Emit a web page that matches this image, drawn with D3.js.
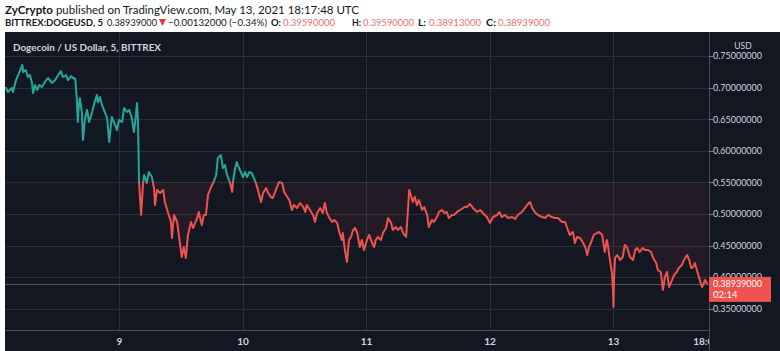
<!DOCTYPE html>
<html>
<head>
<meta charset="utf-8">
<script src="https://cdn.jsdelivr.net/npm/d3@7"></script>
<style>
  body { margin: 0; background: #fff; }
  svg { display: block; }
</style>
</head>
<body>
<div id="chart"></div>
<script>
// DOGE/USD 5分钟 收盘价 [距 5月8日 00:00 UTC 的小时数, 价格]
const doge = [
  [1.9,0.7009],[2.3,0.6930],[3.1,0.6994],[3.3,0.6930],[3.9,0.7120],[4.3,0.7199],[4.9,0.7310],[5.1,0.7358],
  [5.3,0.7247],[5.8,0.7278],[6.2,0.7168],[6.6,0.7199],[7.0,0.7073],[7.2,0.6914],[7.6,0.7041],[8.0,0.6962],
  [8.4,0.7041],[8.9,0.7009],[9.5,0.7089],[10.1,0.7152],[10.9,0.7073],[11.5,0.7120],[12.1,0.7199],[12.6,0.7263],
  [13.0,0.7168],[13.6,0.7199],[14.0,0.7120],[14.6,0.7183],[15.0,0.7152],[15.4,0.7136],[15.7,0.6835],[15.9,0.6456],
  [16.1,0.6725],[16.3,0.6835],[16.7,0.6598],[16.9,0.6171],[17.3,0.6519],[17.7,0.6645],[18.1,0.6456],[18.7,0.6614],
  [19.0,0.6725],[19.6,0.6883],[19.8,0.6772],[20.2,0.6851],[20.6,0.6725],[21.0,0.6645],[21.6,0.6519],[22.0,0.6139],
  [22.5,0.6535],[22.9,0.6456],[23.5,0.6329],[23.9,0.6487],[24.5,0.6456],[24.9,0.6677],[25.5,0.6614],[25.9,0.6645],
  [26.4,0.6519],[26.8,0.6297],[27.2,0.6566],[27.4,0.6756],[27.6,0.6456],[27.8,0.5506],[28.2,0.4984],[28.6,0.5506],
  [28.8,0.5617],[29.3,0.5490],[29.7,0.5664],[30.3,0.5585],[30.7,0.5411],[30.9,0.5142],[31.3,0.5380],[31.9,0.5332],
  [32.5,0.5380],[32.8,0.5190],[33.4,0.5032],[34.0,0.4873],[34.2,0.4620],[34.6,0.4984],[35.2,0.4873],[35.6,0.4620],
  [36.1,0.4319],[36.5,0.4478],[36.9,0.4304],[37.3,0.4668],[37.9,0.4873],[38.3,0.4778],[39.1,0.4937],[39.4,0.5032],
  [40.0,0.4826],[40.4,0.4984],[40.8,0.4984],[41.2,0.5301],[41.8,0.5427],[42.2,0.5490],[42.8,0.5617],[43.1,0.5886],
  [43.7,0.5933],[44.1,0.5728],[44.5,0.5775],[44.9,0.5617],[45.5,0.5490],[45.9,0.5348],[46.1,0.5538],[46.4,0.5696],
  [46.8,0.5823],[47.0,0.5775],[47.4,0.5696],[48.0,0.5585],[48.4,0.5664],[48.8,0.5585],[49.2,0.5664],[49.7,0.5649],
  [50.1,0.5570],[50.5,0.5490],[50.9,0.5380],[51.5,0.5190],[51.9,0.5332],[52.5,0.5411],[52.9,0.5332],[53.4,0.5269],
  [53.8,0.5253],[54.4,0.5380],[55.0,0.5506],[55.6,0.5490],[56.0,0.5348],[56.6,0.5269],[57.0,0.5221],[57.5,0.5063],
  [57.9,0.5142],[58.5,0.5095],[59.1,0.5174],[59.7,0.5111],[60.1,0.5032],[60.4,0.5142],[61.0,0.5063],[61.6,0.4984],
  [62.0,0.4873],[62.4,0.5016],[63.0,0.5095],[63.5,0.5016],[63.9,0.5174],[64.3,0.5016],[64.7,0.4952],[65.3,0.4873],
  [65.7,0.4905],[66.3,0.4857],[66.7,0.4715],[67.2,0.4588],[67.4,0.4699],[67.8,0.4430],[68.2,0.4240],[68.6,0.4588],
  [69.0,0.4636],[69.4,0.4747],[69.8,0.4778],[70.2,0.4699],[70.7,0.4478],[71.1,0.4588],[71.5,0.4430],[72.1,0.4588],
  [72.5,0.4668],[73.1,0.4541],[73.5,0.4478],[73.8,0.4588],[74.2,0.4636],[74.8,0.4588],[75.2,0.4699],[75.8,0.4778],
  [76.2,0.4937],[76.8,0.4857],[77.1,0.4747],[77.7,0.4794],[78.1,0.4747],[78.7,0.4794],[79.1,0.4699],[79.7,0.4636],
  [80.1,0.5111],[80.3,0.5380],[80.6,0.5301],[81.0,0.5190],[81.4,0.5269],[81.8,0.5142],[82.2,0.5221],[82.8,0.5063],
  [83.2,0.5111],[83.8,0.4984],[84.1,0.4794],[84.7,0.4905],[85.1,0.4873],[85.7,0.4952],[86.1,0.5032],[86.7,0.5063],
  [87.1,0.5016],[87.6,0.5032],[88.0,0.4937],[88.6,0.4984],[89.0,0.4984],[89.6,0.5032],[90.2,0.5063],[90.8,0.5095],
  [91.1,0.5111],[91.5,0.5111],[92.1,0.5158],[92.7,0.5095],[93.5,0.5032],[94.1,0.5063],[94.6,0.5016],[95.4,0.4952],
  [96.0,0.4857],[96.6,0.4952],[97.4,0.4984],[97.8,0.5032],[98.3,0.4952],[98.9,0.4984],[99.5,0.4937],[100.3,0.4952],
  [100.9,0.4921],[101.4,0.4984],[102.2,0.5032],[102.8,0.5095],[103.2,0.5142],[103.8,0.5190],[104.2,0.5095],[104.7,0.5032],
  [105.3,0.4984],[106.1,0.4952],[106.7,0.4937],[107.3,0.4984],[108.0,0.4952],[108.6,0.4937],[109.2,0.4937],[110.0,0.4873],
  [110.6,0.4873],[111.0,0.4778],[111.5,0.4668],[112.1,0.4715],[112.5,0.4541],[112.9,0.4636],[113.5,0.4620],[114.1,0.4541],
  [114.5,0.4478],[114.9,0.4351],[115.2,0.4462],[115.8,0.4588],[116.2,0.4668],[116.8,0.4699],[117.2,0.4715],[117.8,0.4668],
  [118.0,0.4557],[118.3,0.4399],[118.7,0.4588],[118.9,0.4509],[119.3,0.4272],[119.7,0.4066],[119.9,0.3797],[120.0,0.3528],
  [120.1,0.3956],[120.3,0.4304],[120.7,0.4351],[121.3,0.4272],[121.8,0.4319],[122.2,0.4509],[122.6,0.4478],[123.2,0.4319],
  [123.8,0.4272],[124.2,0.4430],[124.6,0.4462],[125.1,0.4399],[125.7,0.4462],[126.1,0.4430],[126.7,0.4430],[127.3,0.4399],
  [127.7,0.4304],[128.3,0.4225],[128.6,0.4114],[129.2,0.4082],[129.6,0.3797],[130.0,0.4003],[130.4,0.4082],[130.8,0.3845],
  [131.4,0.3956],[131.8,0.4035],[132.3,0.4082],[132.7,0.4145],[133.3,0.4193],[133.7,0.4272],[134.3,0.4351],[134.7,0.4272],
  [135.1,0.4145],[135.5,0.4161],[135.8,0.4225],[136.2,0.4114],[136.6,0.4003],[137.2,0.3845],[137.4,0.3876],[137.8,0.3956],
  [138.2,0.3894]
];
const priceTicks = [0.35, 0.40, 0.45, 0.50, 0.55, 0.60, 0.65, 0.70, 0.75];
const dayTicks = [9, 10, 11, 12, 13];
const baseLevel = 0.5506;
const lastPrice = 0.38939;
const countdown = "02:14";

// 头部文字 [文本, 粗细, 颜色, 起点x, 宽度, 字号]
const headerLine1 = [["ZyCrypto", "bold"], [" published on TradingView.com, May 13, 2021 18:17:48 UTC", "normal"]];
const headerLine2 = [
  ["BITTREX:DOGEUSD, 5", "bold", "#131722", 5, 98, 10],
  ["0.38939000", "normal", "#131722", 107, 50, 9.5],
  ["\u22120.00132000 (\u22120.34%)", "normal", "#131722", 168, 99, 10],
  ["O:", "bold", "#131722", 271, 10, 10], ["0.39590000", "normal", "#ef6d6b", 283, 52, 9.5],
  ["H:", "bold", "#131722", 352, 9, 10], ["0.39590000", "normal", "#ef6d6b", 363, 51, 9.5],
  ["L:", "bold", "#131722", 418, 8, 10], ["0.38913000", "normal", "#ef6d6b", 429, 52, 9.5],
  ["C:", "bold", "#131722", 486, 10, 10], ["0.38939000", "normal", "#ef6d6b", 498, 52, 9.5]
];

{
  const width = 780, height = 351;
  const pLeft = 5, pRight = 709, pTop = 32, pBottom = 330;
  const t0 = Date.UTC(2021, 4, 8);
  const toDate = h => new Date(t0 + h * 3600e3);
  const dayDate = d => new Date(Date.UTC(2021, 4, d));

  const svg = d3.select("#chart").append("svg")
    .attr("width", width).attr("height", height)
    .style("font-family", "Lato, 'Liberation Sans', sans-serif");

  const x = d3.scaleUtc().domain([toDate(1.75), toDate(138.56)]).range([pLeft, pRight]);
  const y = d3.scaleLinear().domain([0.3164, 0.7880]).range([pBottom, pTop]);
  const yb = y(baseLevel);

  // 背景
  svg.append("rect").attr("x", pLeft).attr("y", pTop).attr("width", width - pLeft).attr("height", height - pTop)
    .attr("fill", "#131722");

  // 网格
  const grid = svg.append("g");
  grid.selectAll(".hgrid").data(priceTicks).join("line")
    .attr("x1", pLeft).attr("x2", pRight)
    .attr("y1", d => Math.round(y(d)) + 0.5).attr("y2", d => Math.round(y(d)) + 0.5)
    .attr("stroke", "#2a2e39");
  grid.selectAll(".vgrid").data(dayTicks).join("line")
    .attr("x1", d => Math.round(x(dayDate(d))) + 0.5)
    .attr("x2", d => Math.round(x(dayDate(d))) + 0.5)
    .attr("y1", pTop).attr("y2", pBottom)
    .attr("stroke", "#2a2e39");

  // 基线上下的裁剪区
  const defs = svg.append("defs");
  defs.append("clipPath").attr("id", "clip-up").append("rect")
    .attr("x", pLeft).attr("y", pTop).attr("width", pRight - pLeft).attr("height", yb - pTop);
  defs.append("clipPath").attr("id", "clip-down").append("rect")
    .attr("x", pLeft).attr("y", yb).attr("width", pRight - pLeft).attr("height", pBottom - yb);
  defs.append("clipPath").attr("id", "clip-time").append("rect")
    .attr("x", 0).attr("y", pBottom).attr("width", pRight).attr("height", height - pBottom);

  const area = d3.area().x(d => x(toDate(d[0]))).y0(yb).y1(d => y(d[1]));
  const line = d3.line().x(d => x(toDate(d[0]))).y(d => y(d[1]));

  svg.append("path").datum(doge).attr("d", area).attr("clip-path", "url(#clip-up)")
    .attr("fill", "rgba(38,166,154,0.015)");
  svg.append("path").datum(doge).attr("d", area).attr("clip-path", "url(#clip-down)")
    .attr("fill", "rgba(239,83,80,0.07)");

  // 最新价格线
  svg.append("line")
    .attr("x1", pLeft).attr("x2", pRight)
    .attr("y1", Math.round(y(lastPrice)) + 0.5).attr("y2", Math.round(y(lastPrice)) + 0.5)
    .attr("stroke", "rgba(200,170,180,0.4)");

  svg.append("path").datum(doge).attr("d", line).attr("clip-path", "url(#clip-up)")
    .attr("fill", "none").attr("stroke", "#26a69a").attr("stroke-width", 2).attr("stroke-linejoin", "round");
  svg.append("path").datum(doge).attr("d", line).attr("clip-path", "url(#clip-down)")
    .attr("fill", "none").attr("stroke", "#ef5350").attr("stroke-width", 2).attr("stroke-linejoin", "round");

  // 轴边框
  svg.append("line").attr("x1", pLeft).attr("x2", pRight).attr("y1", pBottom + 0.5).attr("y2", pBottom + 0.5)
    .attr("stroke", "#4a4e59");
  svg.append("line").attr("x1", pRight + 0.5).attr("x2", pRight + 0.5).attr("y1", pTop).attr("y2", height)
    .attr("stroke", "#4a4e59");

  // 价格轴
  const yAxis = svg.append("g");
  yAxis.selectAll(".tick-line").data(priceTicks).join("line")
    .attr("x1", pRight).attr("x2", pRight + 4)
    .attr("y1", d => Math.round(y(d)) + 0.5).attr("y2", d => Math.round(y(d)) + 0.5)
    .attr("stroke", "#787b86");
  yAxis.selectAll(".tick-label").data(priceTicks).join("text")
    .attr("x", 713).attr("y", d => y(d)).attr("dy", "0.35em")
    .attr("font-size", 9.5).attr("fill", "#d1d4dc")
    .attr("textLength", 49).attr("lengthAdjust", "spacingAndGlyphs")
    .text(d => d3.format(".8f")(d));

  // USD 标签
  svg.append("rect").attr("x", 731).attr("y", 40).attr("width", 30).attr("height", 12).attr("fill", "#131722");
  svg.append("text").attr("x", 743).attr("y", 46).attr("dy", "0.35em").attr("text-anchor", "middle")
    .attr("font-size", 8.5).attr("fill", "#d1d4dc").text("USD");

  // 时间轴
  const xAxis = svg.append("g");
  xAxis.selectAll("text").data(dayTicks).join("text")
    .attr("x", d => x(dayDate(d))).attr("y", 341).attr("dy", "0.35em")
    .attr("text-anchor", "middle").attr("font-size", 10).attr("font-weight", "bold").attr("fill", "#d1d4dc")
    .text(d => d);
  svg.append("text").attr("clip-path", "url(#clip-time)")
    .attr("x", x(toDate(138))).attr("y", 341).attr("dy", "0.35em")
    .attr("text-anchor", "middle").attr("font-size", 10).attr("font-weight", "bold").attr("fill", "#d1d4dc")
    .text("18:00");

  // 最新价格标签
  const ly = y(lastPrice);
  svg.append("rect").attr("x", pRight).attr("y", ly - 7).attr("width", 62).attr("height", 25).attr("fill", "#ef5350");
  svg.append("text").attr("x", 713).attr("y", ly).attr("dy", "0.35em")
    .attr("font-size", 9.5).attr("fill", "#fff")
    .attr("textLength", 49).attr("lengthAdjust", "spacingAndGlyphs")
    .text(d3.format(".8f")(lastPrice));
  svg.append("text").attr("x", 713).attr("y", ly + 11).attr("dy", "0.35em")
    .attr("font-size", 9.5).attr("fill", "#fff").text(countdown);

  // 图表标题
  svg.append("text").attr("x", 13).attr("y", 47).attr("dy", "0.35em")
    .attr("font-size", 10).attr("font-weight", "bold").attr("fill", "#d1d4dc")
    .attr("textLength", 148).attr("lengthAdjust", "spacingAndGlyphs")
    .text("Dogecoin / US Dollar, 5, BITTREX");

  // 头部
  const h1 = svg.append("text").attr("x", 5).attr("y", 14).attr("font-size", 11.5).attr("fill", "#131722");
  h1.selectAll("tspan").data(headerLine1).join("tspan")
    .attr("font-weight", d => d[1]).text(d => d[0]);

  // 第二行: 每段一个 text
  svg.selectAll(".h2").data(headerLine2).join("text")
    .attr("class", "h2")
    .attr("x", d => d[3]).attr("y", 26).attr("font-size", d => d[5])
    .attr("font-weight", d => d[1]).attr("fill", d => d[2])
    .attr("textLength", d => d[4]).attr("lengthAdjust", "spacingAndGlyphs")
    .text(d => d[0]);
  svg.append("path").attr("d", "M159,19 L166,19 L162.5,26 Z").attr("fill", "#e53935");
}
</script>
</body>
</html>
